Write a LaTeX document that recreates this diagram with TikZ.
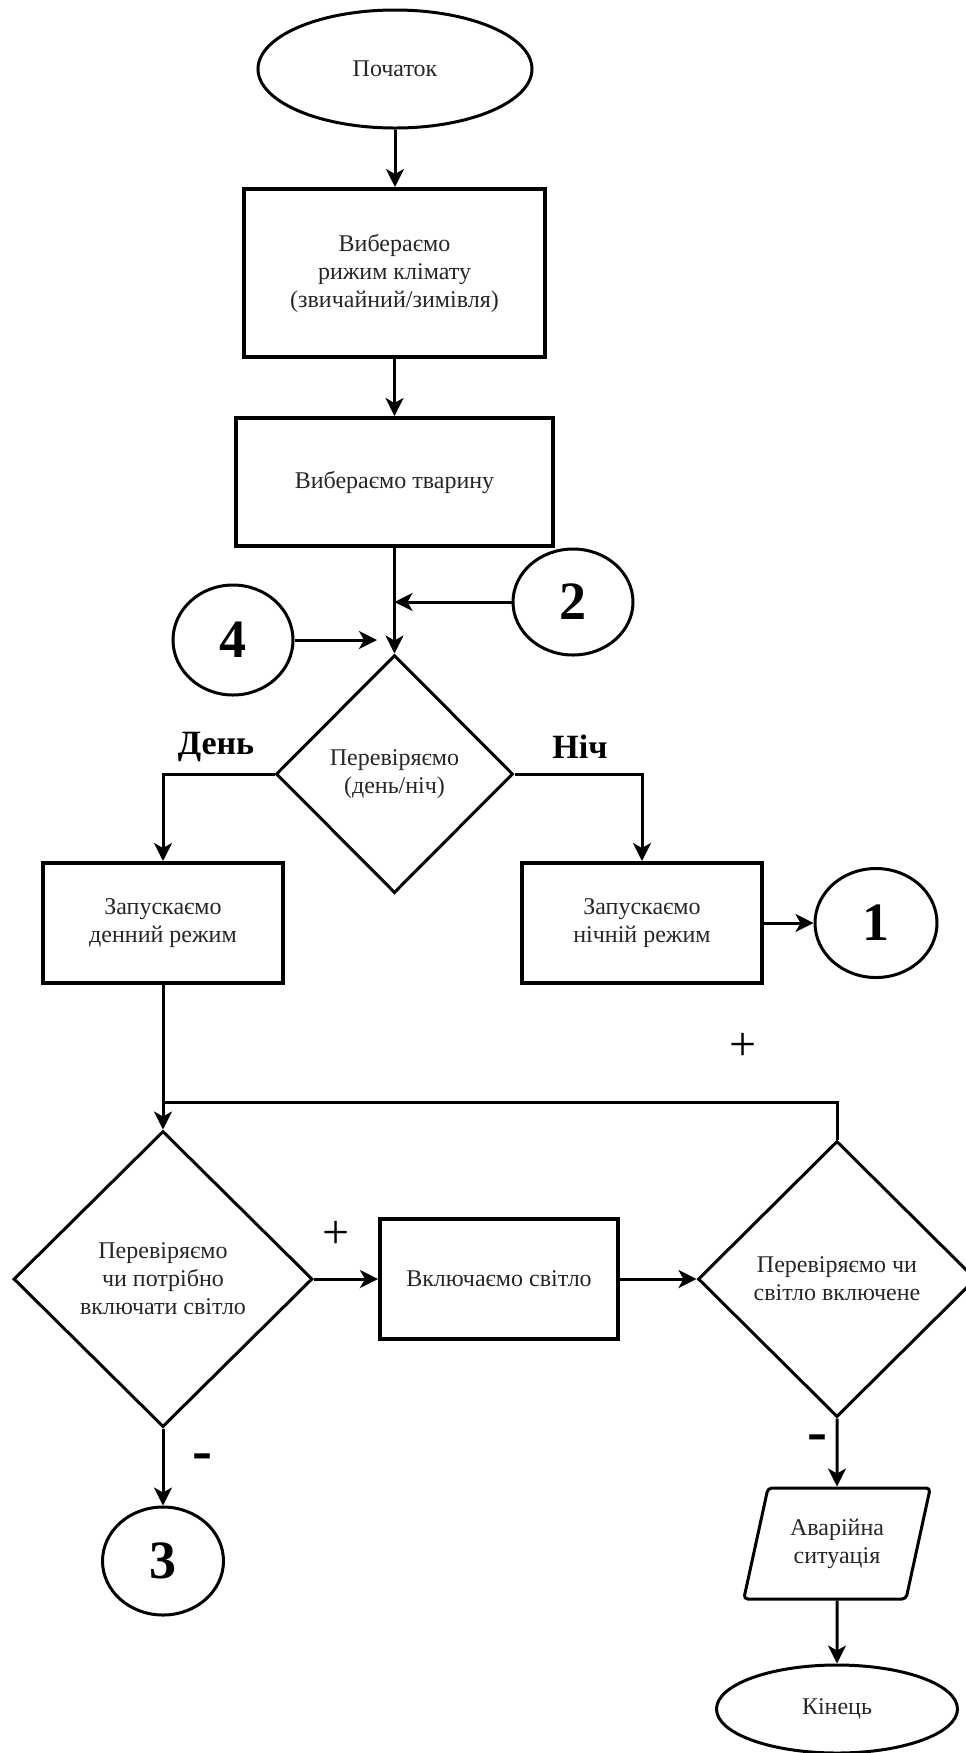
\documentclass[tikz,border=0pt]{standalone}
\usepackage{fontspec}
\setmainfont{Liberation Serif}
\usetikzlibrary{shapes.geometric,arrows.meta}

\begin{document}
\begin{tikzpicture}[x=0.5pt,y=-0.5pt,
  nodebase/.style={draw=black, line width=1.5pt, align=center, inner sep=0pt,
    font=\fontsize{12}{14}\selectfont, text=black!85},
  terminal/.style={nodebase, ellipse},
  process/.style={nodebase, rectangle, line width=2pt},
  decision/.style={nodebase, diamond},
  connector/.style={nodebase, ellipse, font=\fontsize{27}{30}\selectfont\bfseries, text=black},
  io/.style={nodebase, trapezium, trapezium left angle=71.6, trapezium right angle=108.4,
    trapezium stretches=true, rounded corners=2pt},
  flow/.style={line width=1.5pt, -{Stealth[length=9pt,width=9pt,inset=2.5pt]}},
  plain/.style={line width=1.5pt},
  branch/.style={font=\fontsize{17}{20}\selectfont\bfseries},
  sign/.style={font=\fontsize{24}{26}\selectfont},
  minus/.style={font=\fontsize{30}{32}\selectfont\bfseries}
]
\useasboundingbox (0,0) rectangle (965,1753);

% main column
\node[terminal, minimum width=137pt, minimum height=59pt] (start) at (395,69) {Початок};
\node[process, minimum width=150.5pt, minimum height=84pt] (climate) at (394.5,273)
  {Вибераємо\\рижим клімату\\(звичайний/зимівля)};
\node[process, minimum width=158.5pt, minimum height=64pt] (animal) at (394.5,482)
  {Вибераємо тварину};
\node[connector, minimum width=60pt, minimum height=53pt] (c2) at (573,602) {2};
\node[connector, minimum width=60pt, minimum height=55pt] (c4) at (233,640) {4};
\node[decision, minimum width=118.5pt, minimum height=119pt] (daynight) at (394.5,774)
  {Перевіряємо\\(день/ніч)};

% day / night branches
\node[process, minimum width=120pt, minimum height=60pt] (day) at (163,923)
  {Запускаємо\\денний режим};
\node[process, minimum width=120pt, minimum height=60pt] (night) at (642,923)
  {Запускаємо\\нічній режим};
\node[connector, minimum width=61pt, minimum height=54.5pt] (c1) at (876,923) {1};

% light control
\node[decision, minimum width=149.5pt, minimum height=148pt] (needlight) at (163,1279)
  {Перевіряємо\\чи потрібно\\включати світло};
\node[process, minimum width=119pt, minimum height=60pt] (lighton) at (499,1279)
  {Включаємо світло};
\node[decision, minimum width=139pt, minimum height=138pt] (checklight) at (837,1279)
  {Перевіряємо чи\\світло включене};
\node[connector, minimum width=60.5pt, minimum height=54pt] (c3) at (163,1561) {3};
\node[io, minimum width=93.5pt, minimum height=55.5pt] (alarm) at (837,1543.5)
  {Аварійна\\ситуація};
\node[terminal, minimum width=120.5pt, minimum height=44pt] (finish) at (837,1709) {Кінець};

% branch labels
\node[branch] (lday) at (216,747) {День};
\node[branch] (lnight) at (580,747) {Ніч};
\node[sign] (plusloop) at (743,1047) {+};
\node[sign] (pluson) at (336,1235) {+};
\node[minus] (minusneed) at (202,1462) {-};
\node[minus] (minuscheck) at (817,1443) {-};

% connectors
\draw[flow] (start.south) -- (start.south |- climate.north);
\draw[flow] (climate) -- (animal);
\draw[flow] (animal) -- (daynight);
\coordinate (join2) at (c2.west -| animal.south);
\draw[flow] (c2.west) -- (join2);
\coordinate (join4) at (377,640);
\draw[flow] (c4.east) -- (join4);
\draw[flow] (daynight.west) -| (day.north);
\draw[flow] (daynight.east) -| (night.north);
\draw[flow] (night.east) -- (c1.west);
\draw[flow] (day.south) -- (needlight.north);
\coordinate (loop) at (163,1102);
\draw[plain] (checklight.north) |- (loop);
\draw[flow] (needlight.east) -- (lighton.west);
\draw[flow] (lighton.east) -- (checklight.west);
\draw[flow] (needlight.south) -- (c3.north);
\draw[flow] (checklight.south) -- (alarm.north);
\draw[flow] (alarm.south) -- (finish.north);
\end{tikzpicture}
\end{document}
